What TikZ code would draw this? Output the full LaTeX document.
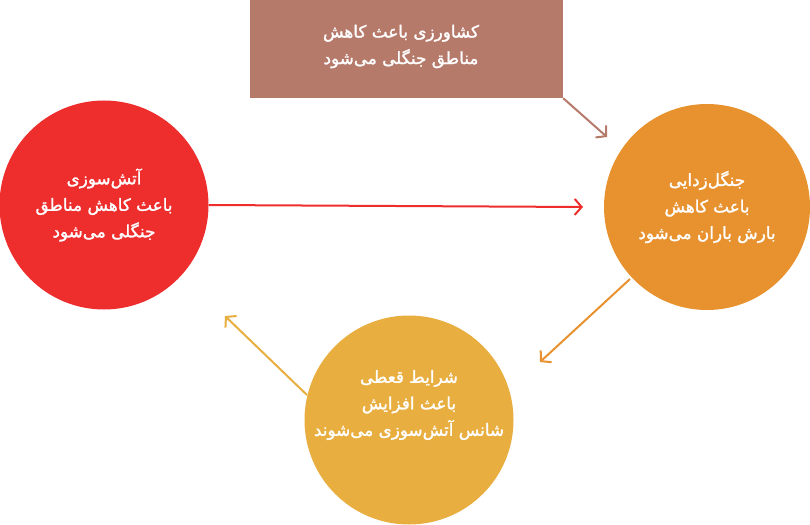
\documentclass[tikz,border=0pt]{standalone}
\usepackage{fontspec}
\newfontfamily\arabicfont[Script=Arabic,FakeBold=1.6]{DejaVu Sans}
\TeXXeTstate=1
\usetikzlibrary{arrows.meta}
\definecolor{brownbox}{HTML}{B57A6A}
\definecolor{redc}{HTML}{EE2D2D}
\definecolor{orangec}{HTML}{E8922F}
\definecolor{yellowc}{HTML}{E8AE40}
\tikzset{
  txt/.style={text=white, align=center, font=\arabicfont\fontsize{16.8}{26.5}\selectfont},
  bubble/.style={circle, txt, inner sep=0pt, minimum size=#1},
  box/.style={rectangle, txt, inner sep=0pt, fill=brownbox, minimum width=313pt, minimum height=98pt},
  link/.style={line width=2pt, -{Straight Barb[length=7pt, width=16pt, line width=2pt]}}
}
\begin{document}
\begin{tikzpicture}[x=1pt,y=-1pt]
\useasboundingbox (0,0) rectangle (810,524);
\node[box] (agri) at (406.5,49) {};
\node[txt] (agritext) at (401,46.5) {\beginR کشاورزی باعث کاهش\endR\\\beginR مناطق جنگلی می^^^^200cشود\endR};
\node[bubble=209pt, fill=redc] (fire) at (104,205) {\beginR آتش^^^^200cسوزی\endR\\\beginR باعث کاهش مناطق\endR\\\beginR جنگلی می^^^^200cشود\endR};
\node[bubble=206pt, fill=orangec] (defor) at (707,207) {\beginR جنگل^^^^200cزدایی\endR\\\beginR باعث کاهش\endR\\\beginR بارش باران می^^^^200cشود\endR};
\node[bubble=209pt, fill=yellowc] (drought) at (409,420) {};
\node[txt] (droughttext) at (409,405) {\beginR شرایط قعطی\endR\\\beginR باعث افزایش\endR\\\beginR شانس آتش^^^^200cسوزی می^^^^200cشوند\endR};
\coordinate (e1) at (607,137);
\coordinate (e2) at (583,207);
\coordinate (e3) at (540,362);
\coordinate (e4) at (225,316);
\coordinate (s3) at (630,279);
\coordinate (s4) at (307,395);
\draw[link, draw=brownbox] (agri.south east) -- (e1);
\draw[link, draw=redc] (fire.east) -- (e2);
\draw[link, draw=orangec] (s3) -- (e3);
\draw[link, draw=yellowc] (s4) -- (e4);
\end{tikzpicture}
\end{document}
